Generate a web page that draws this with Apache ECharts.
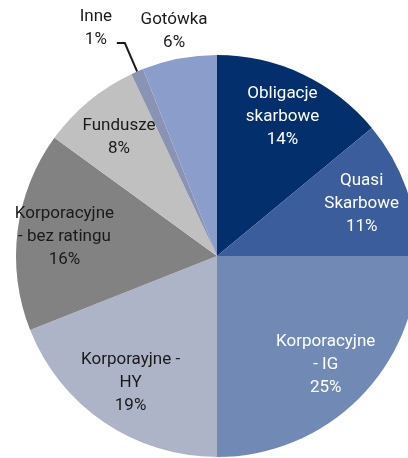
<!DOCTYPE html>
<html lang="pl">
<head>
<meta charset="UTF-8">
<title>Struktura portfela</title>
<style>
    html, body { margin: 0; padding: 0; background: #fff; }
    #main { width: 408px; height: 458px; }
</style>
</head>
<body>
<div id="main"></div>
<script src="https://cdn.jsdelivr.net/npm/echarts@6/dist/echarts.min.js"></script>
<script>
    // dane (%)
    var categories = ['Obligacje\nskarbowe', 'Quasi\nSkarbowe', 'Korporacyjne\n- IG', 'Korporayjne -\nHY',
        'Korporacyjne\n- bez ratingu', 'Fundusze', 'Inne', 'Gotówka'];
    var values = [14, 11, 25, 19, 16, 8, 1, 6];

    // kolory wycinków i napisów
    var sliceColors = ['#032f6d', '#3b5d9b', '#7189b5', '#adb4c8', '#828282', '#c0c0c0', '#8a93b4', '#8b9dca'];
    var textColors = ['#ffffff', '#ffffff', '#ffffff', '#1a1a1a', '#1a1a1a', '#1a1a1a', '#1a1a1a', '#1a1a1a'];

    var CX = 217, CY = 256, R = 201;
    var font = 'Roboto, "Noto Sans", sans-serif';

    var chart = echarts.init(document.getElementById('main'));

    // wycinki; podpis tylko dla "Inne" (z linią)
    var pieData = categories.map(function (n, i) {
        var d = {name: n, value: values[i], itemStyle: {color: sliceColors[i]}};
        if (n === 'Inne') {
            d.label = {
                show: true,
                position: 'outside',
                formatter: '{t|{b}}\n{t|{c}%}',
                padding: [0, 0, 30, 0],
                rich: {t: {width: 32, align: 'center', fontSize: 17, lineHeight: 23, color: '#1a1a1a', fontFamily: font}}
            };
            d.labelLine = {show: true, length: 31, length2: 8, lineStyle: {color: '#1a1a1a', width: 2}};
        }
        return d;
    });

    // przezroczysty pierścień tylko na podpisy wewnątrz
    var innerLabels = categories.map(function (n, i) {
        var hide = (n === 'Inne' || n === 'Gotówka');
        return {name: n, value: values[i], label: {show: !hide, color: textColors[i]}};
    });

    // podpis "Gotówka" nad wykresem
    var outerLabels = categories.map(function (n, i) {
        return {name: n, value: values[i], label: {show: n === 'Gotówka', color: textColors[i]}};
    });

    var labelBase = {
        position: 'inside',
        formatter: '{b}\n{c}%',
        fontSize: 17,
        lineHeight: 23,
        fontFamily: font
    };

    var option = {
        animation: false,
        series: [
            {
                type: 'pie',
                center: [CX, CY],
                radius: [0, R],
                startAngle: 90,
                clockwise: true,
                avoidLabelOverlap: false,
                silent: true,
                label: {show: false},
                labelLine: {show: false},
                data: pieData
            },
            {
                type: 'pie',
                center: [CX, CY],
                radius: [R / 2, R],
                startAngle: 90,
                avoidLabelOverlap: false,
                silent: true,
                itemStyle: {color: 'rgba(0,0,0,0)'},
                label: labelBase,
                labelLine: {show: false},
                data: innerLabels
            },
            {
                type: 'pie',
                center: [CX, CY],
                radius: [R, R + 50],
                startAngle: 90,
                avoidLabelOverlap: false,
                silent: true,
                itemStyle: {color: 'rgba(0,0,0,0)'},
                label: labelBase,
                labelLine: {show: false},
                data: outerLabels
            }
        ]
    };
    chart.setOption(option);
</script>
</body>
</html>
